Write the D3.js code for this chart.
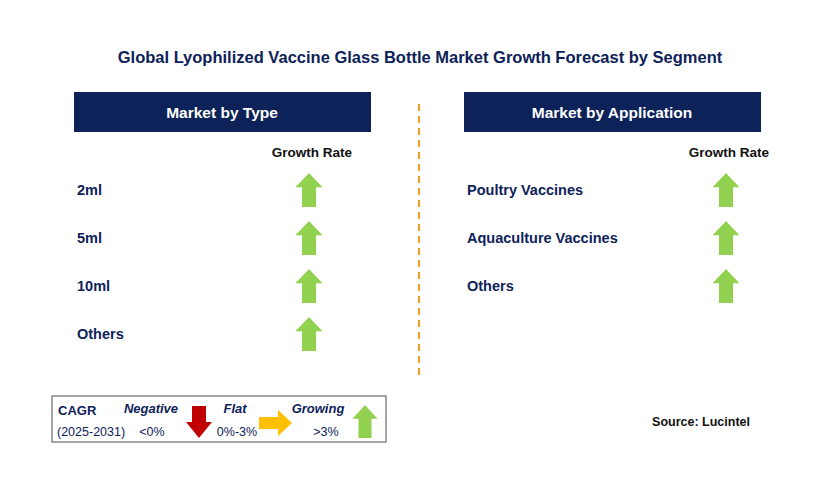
<!DOCTYPE html>
<html><head><meta charset="utf-8">
<script src="https://cdn.jsdelivr.net/npm/d3@7"></script>
<style>body{margin:0;background:#fff}svg{font-family:Arial,"Liberation Sans",sans-serif}</style>
</head><body>
<script>
// data
var title = 'Global Lyophilized Vaccine Glass Bottle Market Growth Forecast by Segment';
var typeSegments = ['2ml', '5ml', '10ml', 'Others'];
var typeTrend = ['up', 'up', 'up', 'up'];
var appSegments = ['Poultry Vaccines', 'Aquaculture Vaccines', 'Others'];
var appTrend = ['up', 'up', 'up'];
var navy = '#0d2259', green = '#92d050', red = '#c00000', amber = '#ffc000';

var svg = d3.select('body').append('svg').attr('width', 829).attr('height', 485);

svg.append('text').attr('x', 420).attr('y', 63).attr('text-anchor', 'middle')
  .attr('font-size', 16.5).attr('font-weight', 'bold').attr('fill', navy).text(title);

// up arrow centered at cx, spanning y0..y1
function upArrow(g, cx, y0, h, w, col){
  var sw = w * 0.52, hh = h * 0.42;
  g.append('path').attr('fill', col).attr('d',
    'M' + cx + ',' + y0 + 'L' + (cx + w/2) + ',' + (y0 + hh) + 'L' + (cx + sw/2) + ',' + (y0 + hh) +
    'L' + (cx + sw/2) + ',' + (y0 + h) + 'L' + (cx - sw/2) + ',' + (y0 + h) + 'L' + (cx - sw/2) + ',' + (y0 + hh) +
    'L' + (cx - w/2) + ',' + (y0 + hh) + 'Z');
}

function panel(x0, header, cats, trends, arrowX, rowY0){
  var g = svg.append('g');
  g.append('rect').attr('x', x0).attr('y', 92).attr('width', 297).attr('height', 40).attr('fill', navy);
  g.append('text').attr('x', x0 + 148).attr('y', 118).attr('text-anchor', 'middle').attr('fill', '#fff')
    .attr('font-size', 15.5).attr('font-weight', 'bold').text(header);
  g.append('text').attr('x', arrowX + 3).attr('y', 157).attr('text-anchor', 'middle')
    .attr('font-size', 13.5).attr('font-weight', 'bold').attr('fill', '#111').text('Growth Rate');
  var y = d3.scaleBand().domain(cats).range([rowY0, rowY0 + 48 * cats.length]);
  cats.forEach(function(c, i){
    g.append('text').attr('x', x0 + 3).attr('y', y(c) + y.bandwidth()/2 + 5)
      .attr('font-size', 14.5).attr('font-weight', 'bold').attr('fill', navy).text(c);
    if (trends[i] == 'up') upArrow(g, arrowX, y(c) + 7, 34, 27, green);
  });
}
panel(74, 'Market by Type', typeSegments, typeTrend, 309, 166);
panel(464, 'Market by Application', appSegments, appTrend, 726, 166);

svg.append('line').attr('x1', 419).attr('x2', 419).attr('y1', 104).attr('y2', 378)
  .attr('stroke', '#f0a020').attr('stroke-width', 2).attr('stroke-dasharray', '7,5');

// legend
var lg = svg.append('g');
lg.append('rect').attr('x', 52).attr('y', 396).attr('width', 334).attr('height', 46)
  .attr('fill', '#fff').attr('stroke', '#888').attr('stroke-width', 1.5);
lg.append('text').attr('x', 58).attr('y', 415).attr('font-size', 13).attr('font-weight', 'bold').attr('fill', navy).text('CAGR');
lg.append('text').attr('x', 57).attr('y', 436).attr('font-size', 12.5).attr('fill', navy).text('(2025-2031)');
[['Negative', 151, '<0%', 152], ['Flat', 235, '0%-3%', 237], ['Growing', 318, '>3%', 326]].forEach(function(d){
  lg.append('text').attr('x', d[1]).attr('y', 413).attr('text-anchor', 'middle').attr('font-size', 13)
    .attr('font-weight', 'bold').attr('font-style', 'italic').attr('fill', navy).text(d[0]);
  lg.append('text').attr('x', d[3]).attr('y', 436).attr('text-anchor', 'middle').attr('font-size', 12.5)
    .attr('fill', navy).text(d[2]);
});
// red down arrow
lg.append('path').attr('fill', red).attr('d', 'M192,406L206,406L206,422L212,422L199,438L186,422L192,422Z');
// amber right arrow
lg.append('path').attr('fill', amber).attr('d', 'M259,417L278,417L278,410L292,423L278,436L278,429L259,429Z');
upArrow(lg, 365, 405, 33, 25, green);

svg.append('text').attr('x', 750).attr('y', 426).attr('text-anchor', 'end').attr('font-size', 12.5)
  .attr('font-weight', 'bold').attr('fill', '#111').text('Source: Lucintel');
</script>
</body></html>
